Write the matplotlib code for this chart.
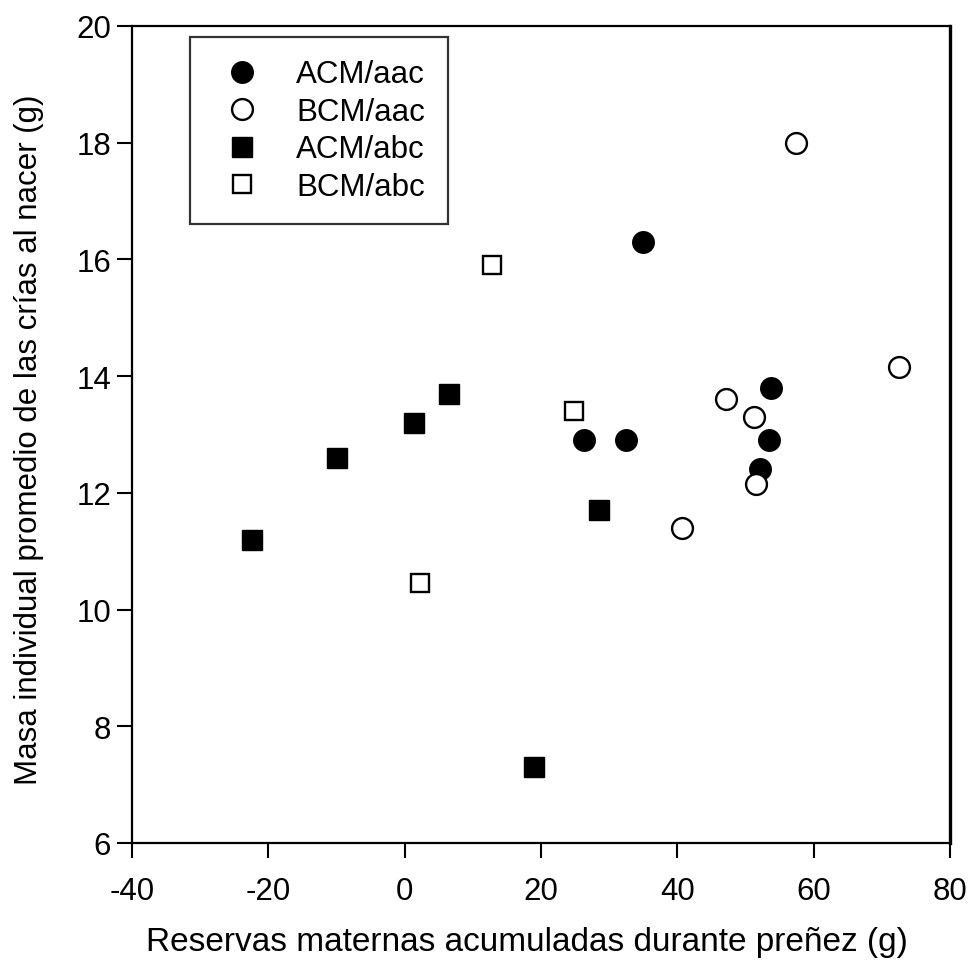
import matplotlib
matplotlib.use("Agg")
import matplotlib.pyplot as plt

plt.rcParams['font.family'] = ['Liberation Sans', 'DejaVu Sans']

# Reservas maternas (g) vs. masa individual promedio de las crías (g)
acm_aac_x = [35.0, 26.3, 32.5, 53.8, 53.5, 52.1]
acm_aac_y = [16.3, 12.9, 12.9, 13.8, 12.9, 12.4]

bcm_aac_x = [57.4, 72.5, 47.2, 51.3, 51.5, 40.7]
bcm_aac_y = [18.0, 14.15, 13.6, 13.3, 12.15, 11.4]

acm_abc_x = [6.5, 1.3, -9.9, -22.4, 28.5, 19.0]
acm_abc_y = [13.7, 13.2, 12.6, 11.2, 11.7, 7.3]

bcm_abc_x = [12.8, 24.9, 2.2]
bcm_abc_y = [15.9, 13.4, 10.45]

x_ticks = [-40, -20, 0, 20, 40, 60, 80]
y_ticks = [6, 8, 10, 12, 14, 16, 18, 20]

fig = plt.figure(figsize=(9.72, 9.70), dpi=100)
ax = fig.add_axes([0.1358, 0.1299, 0.9774 - 0.1358, 0.9722 - 0.1299])

ax.plot(acm_aac_x, acm_aac_y, linestyle='none', marker='o', markersize=15.5,
        markerfacecolor='black', markeredgecolor='black', label='ACM/aac')
ax.plot(bcm_aac_x, bcm_aac_y, linestyle='none', marker='o', markersize=15.0,
        markerfacecolor='white', markeredgecolor='black', markeredgewidth=1.7,
        label='BCM/aac')
ax.plot(acm_abc_x, acm_abc_y, linestyle='none', marker='s', markersize=14.5,
        markerfacecolor='black', markeredgecolor='black', label='ACM/abc')
ax.plot(bcm_abc_x, bcm_abc_y, linestyle='none', marker='s', markersize=13.5,
        markerfacecolor='white', markeredgecolor='black', markeredgewidth=1.7,
        label='BCM/abc')

ax.set_xlim(-40, 80)
ax.set_ylim(6, 20)
ax.set_xticks(x_ticks)
ax.set_yticks(y_ticks)
ax.set_xticklabels([str(v) for v in x_ticks])
ax.set_yticklabels([str(v) for v in y_ticks])

ax.tick_params(axis='both', direction='out', length=11, width=1.5,
               labelsize=22.5, color='black')
ax.tick_params(axis='x', pad=13)
ax.tick_params(axis='y', pad=4)

for side in ['left', 'bottom', 'top']:
    ax.spines[side].set_linewidth(1.6)
ax.spines['right'].set_linewidth(2.4)

ax.set_xlabel('Reservas maternas acumuladas durante preñez (g)', fontsize=24)
ax.set_ylabel('Masa individual promedio de las crías al nacer (g)', fontsize=22.5)
ax.xaxis.set_label_coords(0.483, -0.102)
ax.yaxis.set_label_coords(-0.108, 0.495)

leg = ax.legend(loc='upper left', bbox_to_anchor=(0.0709, 0.9865),
                fontsize=22.5, frameon=True, fancybox=False, edgecolor='black',
                borderpad=0.72, handletextpad=0.78, labelspacing=0.24,
                borderaxespad=0, handlelength=1.9, markerscale=1.0)
leg.get_frame().set_linewidth(1.6)

fig.savefig('out.png', dpi=100, facecolor='white')
